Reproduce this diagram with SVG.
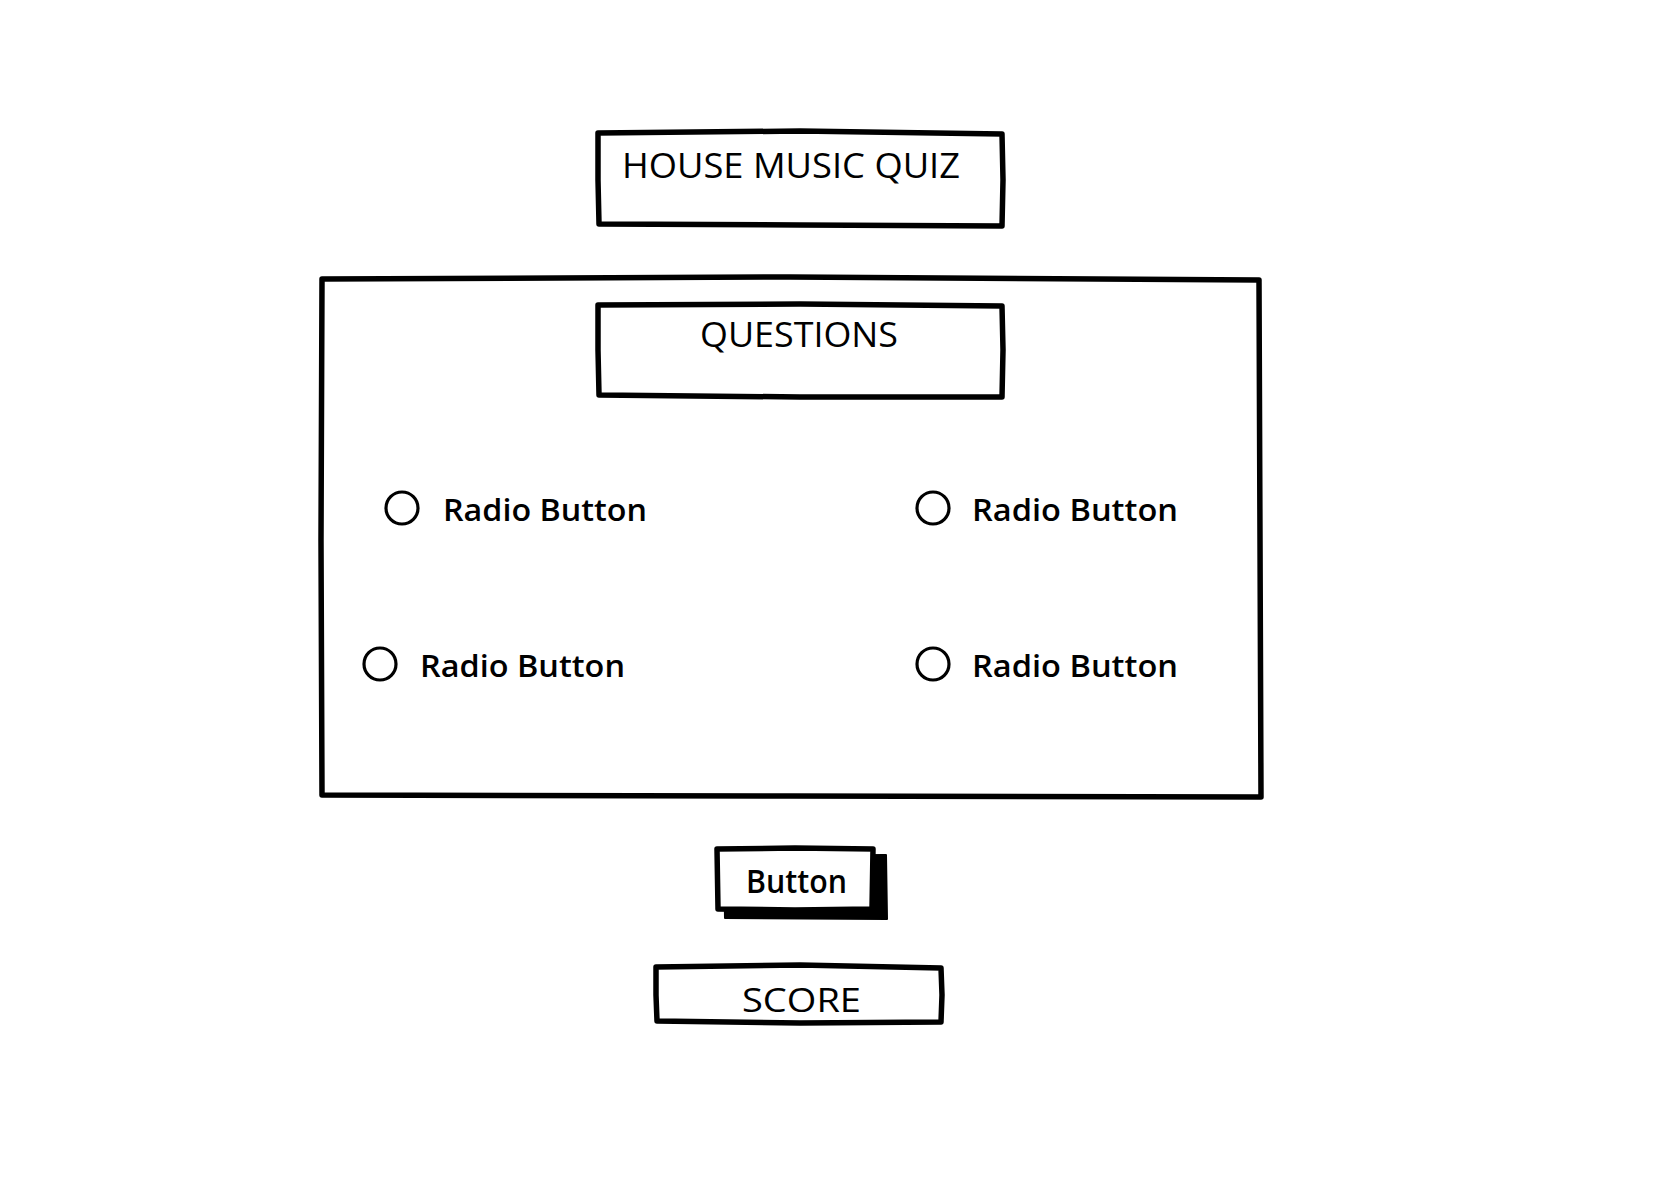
<svg xmlns="http://www.w3.org/2000/svg" width="1676" height="1196" viewBox="0 0 1676 1196">
<style>
.sk{fill:#fff;stroke:#000;stroke-width:5.5;stroke-linejoin:round;stroke-linecap:round}
.rb{fill:none;stroke:#000;stroke-width:3.2}
.t{font-family:"Open Sans","Liberation Sans",sans-serif;fill:#000;font-weight:500}
.b{font-weight:600}
</style>
<rect width="1676" height="1196" fill="#fff"/>
<g id="title">
<path class="sk" d="M598,133 L800,131 L1002,134 L1003,180 L1002,226 L800,225 L599,224 L598,180 Z"/>
<text class="t" x="622" y="178" font-size="34" textLength="338" lengthAdjust="spacingAndGlyphs">HOUSE MUSIC QUIZ</text>
</g>
<g id="panel">
<path class="sk" d="M322,279 L790,277 L1259,280 L1260,540 L1261,797 L790,796 L322,795 L321,540 Z"/>
</g>
<g id="questions">
<path class="sk" d="M598,305 L800,304 L1002,306 L1003,350 L1002,397 L800,397 L599,395 L598,350 Z"/>
<text class="t" x="700" y="347" font-size="34" textLength="198" lengthAdjust="spacingAndGlyphs">QUESTIONS</text>
</g>
<g id="radio1">
<circle class="rb" cx="402" cy="508" r="16"/>
<text class="t b" x="443" y="521" font-size="31" textLength="204" lengthAdjust="spacingAndGlyphs">Radio Button</text>
</g>
<g id="radio2">
<circle class="rb" cx="933" cy="508" r="16"/>
<text class="t b" x="972" y="521" font-size="31" textLength="206" lengthAdjust="spacingAndGlyphs">Radio Button</text>
</g>
<g id="radio3">
<circle class="rb" cx="380" cy="664" r="16"/>
<text class="t b" x="420" y="677" font-size="31" textLength="205" lengthAdjust="spacingAndGlyphs">Radio Button</text>
</g>
<g id="radio4">
<circle class="rb" cx="933" cy="664" r="16"/>
<text class="t b" x="972" y="677" font-size="31" textLength="206" lengthAdjust="spacingAndGlyphs">Radio Button</text>
</g>
<g id="button">
<path d="M724,856 L886,855 L887,919 L725,918 Z" fill="#000" stroke="#000" stroke-width="2" stroke-linejoin="round"/>
<path class="sk" d="M717,849 L795,848 L873,849 L872,909 L795,910 L718,909 Z"/>
<text class="t b" x="746" y="893" font-size="32" textLength="101" lengthAdjust="spacingAndGlyphs">Button</text>
</g>
<g id="score">
<path class="sk" d="M656,967 L800,965 L941,968 L942,995 L941,1022 L800,1023 L657,1021 L656,995 Z"/>
<text class="t" x="742" y="1012" font-size="32" textLength="119" lengthAdjust="spacingAndGlyphs">SCORE</text>
</g>
<g id="connectors"/>
</svg>
